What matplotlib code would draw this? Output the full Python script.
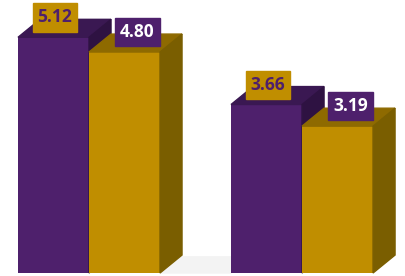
import matplotlib
matplotlib.use("Agg")
import matplotlib.pyplot as plt
from matplotlib.patches import Polygon, Rectangle

# data
groups = ["A", "B"]
purple_vals = [5.12, 3.66]
gold_vals = [4.80, 3.19]

purple = ["#4E206C", "#3A1852", "#2E1242"]   # front, top, side
gold = ["#C08E00", "#8E6A00", "#7A5E00"]
w = 1.0
dx, dy = 0.31, 0.39   # depth of the fake 3d

fig = plt.figure(figsize=(4.05, 2.76), dpi=100)
ax = fig.add_axes([0, 0, 1, 1])
ax.set_xlim(-0.2535, 5.45)
ax.set_ylim(-0.065, 5.93)
ax.axis("off")


def bar3d(x, h, cols, z):
    ax.bar(x, h, width=w, align="edge", color=cols[0], zorder=z)
    top = [(x, h), (x + dx, h + dy), (x + w + dx, h + dy), (x + w, h)]
    side = [(x + w, 0), (x + w + dx, dy), (x + w + dx, h + dy), (x + w, h)]
    ax.add_patch(Polygon(top, closed=True, color=cols[1], zorder=z))
    ax.add_patch(Polygon(side, closed=True, color=cols[2], zorder=z))


def label(xc, h, txt, face, tc):
    bw, bh = 0.63, 0.61
    yc = h + 0.43
    ax.add_patch(Rectangle((xc - bw / 2, yc - bh / 2), bw, bh, color=face, zorder=10))
    ax.text(xc, yc, txt, ha="center", va="center", color=tc, fontsize=12.5,
            fontweight="bold", family="Open Sans", zorder=11)


# faint floor shadow between the two groups
ax.add_patch(Polygon([(2, 0), (2 + dx, dy * 0.9), (3.0, dy * 0.9), (3.0, 0)],
                     closed=True, color="#F3F3F3", zorder=0))

for i in range(len(groups)):
    x0 = i * 3.0
    bar3d(x0, purple_vals[i], purple, 1)
    bar3d(x0 + 1, gold_vals[i], gold, 2)
    label(x0 + 0.52, purple_vals[i], "%.2f" % purple_vals[i], gold[0], purple[0])
    label(x0 + 1.68, gold_vals[i], "%.2f" % gold_vals[i], purple[0], "white")

fig.savefig("out.png", dpi=100)
